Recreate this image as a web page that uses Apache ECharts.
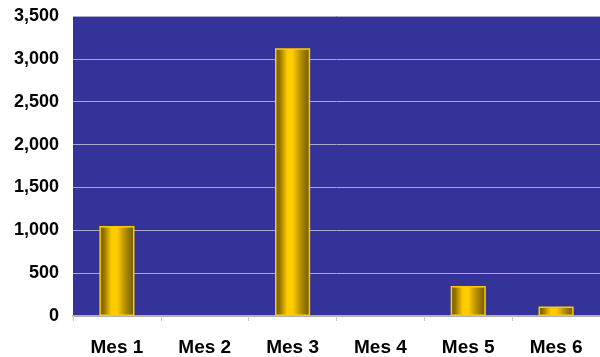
<!DOCTYPE html>
<html>
<head>
<meta charset="utf-8">
<script src="https://cdn.jsdelivr.net/npm/echarts@6/dist/echarts.min.js"></script>
<style>
  html, body { margin: 0; padding: 0; background: #ffffff; }
  #chart { width: 600px; height: 357px; }
</style>
</head>
<body>
<div id="chart"></div>
<script>
// Monthly totals
const categories = ['Mes 1', 'Mes 2', 'Mes 3', 'Mes 4', 'Mes 5', 'Mes 6'];
const values = [1050, 0, 3125, 0, 350, 110];
const yTicks = [0, 500, 1000, 1500, 2000, 2500, 3000, 3500];

const chart = echarts.init(document.getElementById('chart'), null, { renderer: 'canvas' });

// Cylinder-like gold shading across each bar
const goldShade = new echarts.graphic.LinearGradient(0, 0, 1, 0, [
  { offset: 0, color: '#6e5600' },
  { offset: 0.12, color: '#8f7000' },
  { offset: 0.35, color: '#ffcc00' },
  { offset: 0.5, color: '#ffcc00' },
  { offset: 0.75, color: '#b08a00' },
  { offset: 1, color: '#6e5600' }
]);

// Empty months get no outline
const barData = values.map(v => v === 0
  ? { value: v, itemStyle: { borderWidth: 0 } }
  : v);

chart.setOption({
  animation: false,
  grid: { left: 73, top: 16, width: 532, height: 302, backgroundColor: '#333399', show: true, borderWidth: 0 },
  xAxis: {
    type: 'category',
    data: categories,
    axisLine: { lineStyle: { color: '#b0b0b0', width: 2 } },
    axisTick: { show: true, length: 5, lineStyle: { color: '#c8c8c8' } },
    axisLabel: {
      color: '#000', fontFamily: 'Liberation Sans, Arial, sans-serif',
      fontWeight: 'bold', fontSize: 19, margin: 22
    }
  },
  yAxis: {
    type: 'value',
    min: yTicks[0],
    max: yTicks[yTicks.length - 1],
    interval: 500,
    axisLine: { show: false },
    axisTick: { show: false },
    splitLine: { lineStyle: { color: '#a8a8c8', width: 1 } },
    axisLabel: {
      color: '#000', fontFamily: 'Liberation Sans, Arial, sans-serif',
      fontWeight: 'bold', fontSize: 18, margin: 14,
      formatter: v => v.toLocaleString('en-US')
    }
  },
  series: [{
    type: 'bar',
    data: barData,
    barWidth: '40%',
    itemStyle: { color: goldShade, borderColor: '#ffcc00', borderWidth: 1.5 }
  }]
});
</script>
</body>
</html>
